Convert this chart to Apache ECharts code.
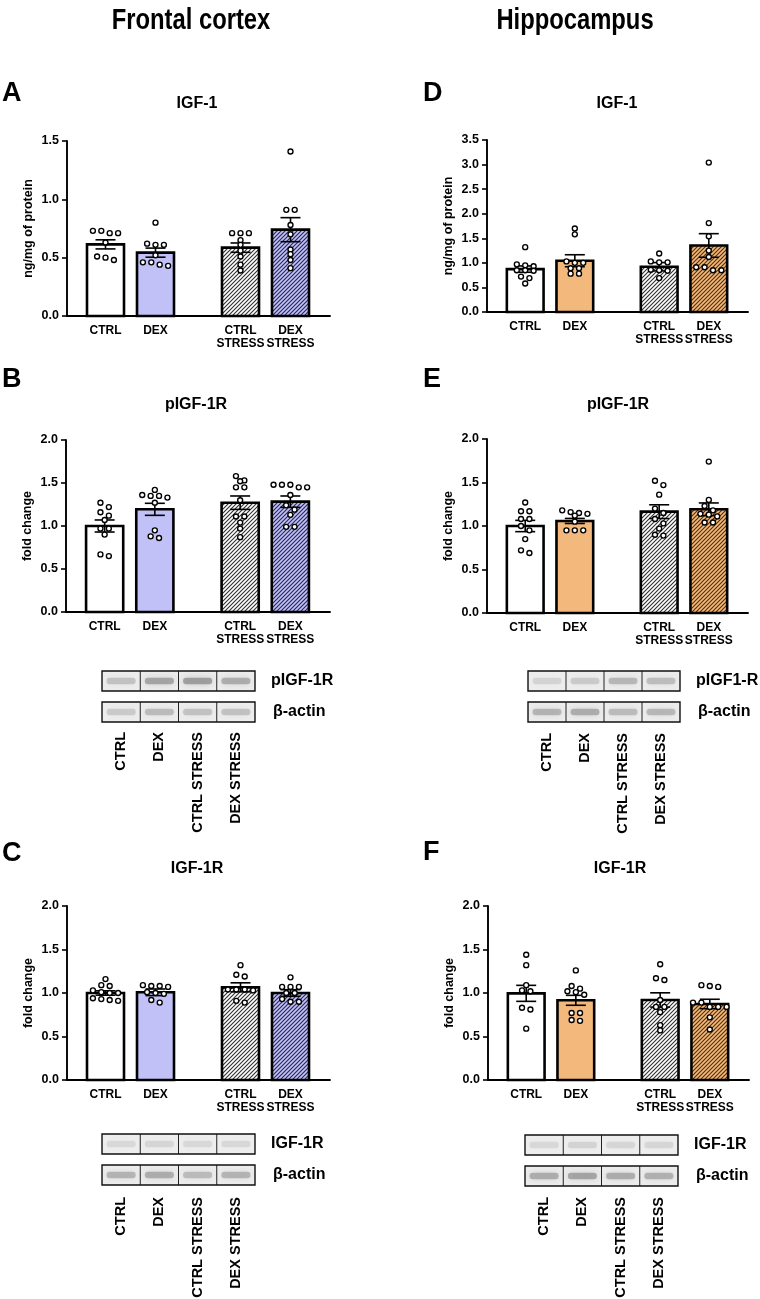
<!DOCTYPE html>
<html><head><meta charset="utf-8">
<script src="https://cdn.jsdelivr.net/npm/echarts@6/dist/echarts.min.js"></script>
<style>html,body{margin:0;padding:0;background:#fff}#c{width:760px;height:1299px}</style>
</head><body><div id="c"></div>
<script>
// ---------- categories ----------
const groups = ['CTRL', 'DEX', 'CTRL\nSTRESS', 'DEX\nSTRESS'];
const laneLabels = ['CTRL', 'DEX', 'CTRL STRESS', 'DEX STRESS'];

// ---------- A: Frontal cortex IGF-1 (ng/mg of protein) ----------
const aMean = [0.614, 0.543, 0.586, 0.740];
const aSem  = [0.039, 0.039, 0.040, 0.103];
const aCtrl    = [0.71, 0.73, 0.71, 0.73, 0.63, 0.48, 0.51, 0.50];
const aDex     = [0.80, 0.61, 0.62, 0.61, 0.52, 0.46, 0.46, 0.44, 0.43];
const aCtrlStr = [0.71, 0.71, 0.71, 0.65, 0.61, 0.56, 0.51, 0.44, 0.39];
const aDexStr  = [1.41, 0.91, 0.91, 0.78, 0.70, 0.57, 0.53, 0.48, 0.41];

// ---------- D: Hippocampus IGF-1 ----------
const dMean = [0.873, 1.043, 0.921, 1.354];
const dSem  = [0.064, 0.122, 0.085, 0.240];
const dCtrl    = [1.32, 0.97, 0.95, 0.93, 0.85, 0.85, 0.84, 0.72, 0.69, 0.58];
const dDex     = [1.70, 1.58, 1.03, 1.00, 1.00, 0.89, 0.89, 0.78, 0.78];
const dCtrlStr = [1.19, 1.03, 1.01, 1.01, 0.86, 0.85, 0.84, 0.69];
const dDexStr  = [3.04, 1.81, 1.54, 1.25, 1.12, 0.91, 0.91, 0.85, 0.85];

// ---------- B: Frontal cortex pIGF-1R (fold change) ----------
const bMean = [1.000, 1.194, 1.271, 1.283];
const bSem  = [0.070, 0.070, 0.078, 0.066];
const bCtrl    = [1.27, 1.22, 1.16, 1.12, 1.07, 0.97, 0.97, 0.90, 0.67, 0.65];
const bDex     = [1.42, 1.36, 1.35, 1.35, 1.33, 1.27, 0.95, 0.88, 0.86];
const bCtrlStr = [1.58, 1.53, 1.52, 1.45, 1.45, 1.30, 1.11, 1.11, 1.04, 0.97, 0.87];
const bDexStr  = [1.48, 1.48, 1.48, 1.45, 1.45, 1.36, 1.24, 1.19, 1.13, 0.99, 0.99];

// ---------- E: Hippocampus pIGF-1R ----------
const eMean = [1.000, 1.058, 1.165, 1.192];
const eSem  = [0.065, 0.029, 0.079, 0.073];
const eCtrl    = [1.27, 1.17, 1.17, 1.08, 1.08, 1.00, 0.95, 0.85, 0.72, 0.69];
const eDex     = [1.18, 1.16, 1.15, 1.14, 1.12, 1.05, 0.95, 0.95, 0.95];
const eCtrlStr = [1.52, 1.47, 1.36, 1.20, 1.15, 1.08, 1.03, 0.97, 0.90, 0.89];
const eDexStr  = [1.74, 1.30, 1.23, 1.18, 1.14, 1.13, 1.11, 1.04, 1.04];

// ---------- C: Frontal cortex IGF-1R ----------
const cMean = [1.000, 1.008, 1.065, 1.000];
const cSem  = [0.025, 0.038, 0.052, 0.038];
const cCtrl    = [1.16, 1.09, 1.08, 1.03, 1.01, 1.00, 1.00, 0.94, 0.93, 0.92, 0.91];
const cDex     = [1.09, 1.08, 1.08, 1.07, 1.01, 1.00, 0.99, 0.92, 0.89];
const cCtrlStr = [1.32, 1.21, 1.19, 1.04, 1.04, 1.04, 1.03, 0.91, 0.89];
const cDexStr  = [1.18, 1.07, 1.07, 1.07, 1.00, 1.00, 0.93, 0.90, 0.90];

// ---------- F: Hippocampus IGF-1R ----------
const fMean = [0.996, 0.916, 0.920, 0.874];
const fSem  = [0.092, 0.057, 0.082, 0.054];
const fCtrl    = [1.44, 1.32, 1.09, 1.03, 1.02, 0.83, 0.81, 0.59];
const fDex     = [1.26, 1.08, 1.05, 1.02, 1.01, 0.98, 0.77, 0.77, 0.69, 0.68];
const fCtrlStr = [1.33, 1.17, 1.15, 0.92, 0.84, 0.84, 0.78, 0.63, 0.57];
const fDexStr  = [1.09, 1.08, 1.07, 0.89, 0.89, 0.84, 0.84, 0.84, 0.72, 0.58];

// ---------- Western blot band intensities (0..1) ----------
const bBlotP   = [0.30, 0.50, 0.55, 0.45];
const bBlotAct = [0.25, 0.35, 0.30, 0.30];
const eBlotP   = [0.18, 0.24, 0.38, 0.34];
const eBlotAct = [0.40, 0.45, 0.35, 0.38];
const cBlotT   = [0.15, 0.17, 0.15, 0.15];
const cBlotAct = [0.40, 0.45, 0.35, 0.40];
const fBlotT   = [0.15, 0.18, 0.17, 0.17];
const fBlotAct = [0.45, 0.50, 0.45, 0.42];

// ================= layout & styling =================
const FONT = "'Liberation Sans', Arial, sans-serif";
const xMax = 5.26;
const groupPos = [0.77, 1.77, 3.47, 4.47];
const barW = 0.74;

function hatch(bg, line) {
  const c = document.createElement('canvas');
  c.width = 4; c.height = 4;
  const g = c.getContext('2d');
  g.fillStyle = bg; g.fillRect(0, 0, 4, 4);
  g.strokeStyle = line; g.lineWidth = 1.15;
  g.beginPath();
  g.moveTo(0, 4); g.lineTo(4, 0);
  g.moveTo(-1, 1); g.lineTo(1, -1);
  g.moveTo(3, 5); g.lineTo(5, 3);
  g.stroke();
  return { image: c, repeat: 'repeat' };
}
const fillsFrontal = ['#ffffff', '#c1c1f7', hatch('#ffffff', '#333333'), hatch('#c1c1f7', '#2a2a5a')];
const fillsHippo   = ['#ffffff', '#f3b97c', hatch('#ffffff', '#333333'), hatch('#f3b97c', '#55300f')];

const panels = [
  { left: 67,  top: 141, width: 263, height: 175, yMax: 1.5, yName: 'ng/mg of protein', mean: aMean, sem: aSem, pts: [aCtrl, aDex, aCtrlStr, aDexStr], fills: fillsFrontal },
  { left: 487, top: 140, width: 261, height: 172, yMax: 3.5, yName: 'ng/mg of protein', mean: dMean, sem: dSem, pts: [dCtrl, dDex, dCtrlStr, dDexStr], fills: fillsHippo },
  { left: 66,  top: 440, width: 264, height: 172, yMax: 2.0, yName: 'fold change', mean: bMean, sem: bSem, pts: [bCtrl, bDex, bCtrlStr, bDexStr], fills: fillsFrontal },
  { left: 487, top: 439, width: 261, height: 174, yMax: 2.0, yName: 'fold change', mean: eMean, sem: eSem, pts: [eCtrl, eDex, eCtrlStr, eDexStr], fills: fillsHippo },
  { left: 67,  top: 906, width: 263, height: 174, yMax: 2.0, yName: 'fold change', mean: cMean, sem: cSem, pts: [cCtrl, cDex, cCtrlStr, cDexStr], fills: fillsFrontal },
  { left: 488, top: 906, width: 261, height: 174, yMax: 2.0, yName: 'fold change', mean: fMean, sem: fSem, pts: [fCtrl, fDex, fCtrlStr, fDexStr], fills: fillsHippo }
];

// deterministic row-based swarm: points at nearly the same height are spread side by side
function swarm(values, pxPerY, stepPx, tolPx) {
  const idx = values.map((v, i) => i).sort((a, b) => values[b] - values[a]);
  const rows = [];
  idx.forEach(i => {
    const r = rows[rows.length - 1];
    if (r && (values[r[0]] - values[i]) * pxPerY <= tolPx) r.push(i); else rows.push([i]);
  });
  const off = new Array(values.length).fill(0);
  rows.forEach(r => r.forEach((i, k) => { off[i] = (k - (r.length - 1) / 2) * stepPx; }));
  return off;
}

const grids = [], xAxes = [], yAxes = [], series = [];
panels.forEach((p, pi) => {
  grids.push({ left: p.left, top: p.top, width: p.width, height: p.height });
  xAxes.push({
    type: 'value', gridIndex: pi, min: 0, max: xMax,
    axisLine: { show: true, onZero: true, lineStyle: { color: '#000', width: 1.9 } },
    axisTick: { show: false }, axisLabel: { show: false }, splitLine: { show: false }
  });
  yAxes.push({
    type: 'value', gridIndex: pi, min: 0, max: p.yMax, interval: 0.5,
    axisLine: { show: true, lineStyle: { color: '#000', width: 1.9 } },
    axisTick: { show: true, length: 5, lineStyle: { color: '#000', width: 1.6 } },
    axisLabel: { formatter: v => v.toFixed(1), color: '#000', fontWeight: 'bold', fontSize: 12.5, fontFamily: FONT, margin: 8 },
    splitLine: { show: false },
    name: p.yName, nameLocation: 'middle', nameRotate: 90, nameGap: 32,
    nameTextStyle: { color: '#000', fontWeight: 'bold', fontSize: 12.5, fontFamily: FONT }
  });
  const pxPerX = p.width / xMax, pxPerY = p.height / p.yMax;
  const fills = p.fills;
  // bars
  series.push({
    type: 'custom', xAxisIndex: pi, yAxisIndex: pi, silent: true, z: 2,
    data: groupPos.map((x, i) => [x, p.mean[i], i]),
    renderItem: (params, api) => {
      const x = api.value(0), y = api.value(1), k = api.value(2);
      const p0 = api.coord([x, 0]), p1 = api.coord([x, y]);
      const w = api.size([barW, 0])[0];
      return { type: 'rect', shape: { x: p0[0] - w / 2, y: p1[1], width: w, height: p0[1] - p1[1] },
        style: { fill: fills[k], stroke: '#000', lineWidth: 2.6 } };
    }
  });
  // error bars
  series.push({
    type: 'custom', xAxisIndex: pi, yAxisIndex: pi, silent: true, z: 3,
    data: groupPos.map((x, i) => [x, p.mean[i], p.sem[i]]),
    renderItem: (params, api) => {
      const x = api.value(0), m = api.value(1), s = api.value(2);
      const t = api.coord([x, m + s]), b = api.coord([x, m - s]);
      const st = { stroke: '#000', lineWidth: 1.6 };
      return { type: 'group', children: [
        { type: 'line', shape: { x1: t[0], y1: t[1], x2: b[0], y2: b[1] }, style: st },
        { type: 'line', shape: { x1: t[0] - 10, y1: t[1], x2: t[0] + 10, y2: t[1] }, style: st },
        { type: 'line', shape: { x1: b[0] - 10, y1: b[1], x2: b[0] + 10, y2: b[1] }, style: st }
      ] };
    }
  });
  // individual points
  const pts = [];
  p.pts.forEach((vals, gi) => {
    const off = swarm(vals, pxPerY, 8.4, 4.5);
    vals.forEach((v, j) => pts.push([groupPos[gi] + off[j] / pxPerX, v]));
  });
  series.push({
    type: 'scatter', xAxisIndex: pi, yAxisIndex: pi, silent: true, z: 4,
    symbol: 'circle', symbolSize: 5,
    itemStyle: { color: '#ffffff', borderColor: '#000', borderWidth: 1.35, opacity: 1 },
    data: pts
  });
  // category labels under the x axis
  series.push({
    type: 'custom', xAxisIndex: pi, yAxisIndex: pi, silent: true, z: 5, clip: false,
    data: groupPos.map((x, i) => [x, i]),
    renderItem: (params, api) => {
      const c = api.coord([api.value(0), 0]);
      return { type: 'text', x: c[0], y: c[1] + 8,
        style: { text: groups[api.value(1)], align: 'center', verticalAlign: 'top',
          font: 'bold 12px ' + FONT, fill: '#000', lineHeight: 13 } };
    }
  });
});

// ---------- graphic: headings, letters, titles, blots ----------
const G = [];
function txt(x, y, s, size, opt) {
  opt = opt || {};
  const el = { type: 'text', x: x, y: y, silent: true,
    style: { text: s, font: 'bold ' + size + 'px ' + FONT, fill: '#000',
      align: opt.align || 'center', verticalAlign: opt.va || 'middle' } };
  if (opt.scaleX) el.scaleX = opt.scaleX;
  if (opt.rotation) el.rotation = opt.rotation;
  G.push(el);
}
txt(191, 21, 'Frontal cortex', 29, { scaleX: 0.82 });
txt(575, 21, 'Hippocampus', 29, { scaleX: 0.82 });

txt(2, 94, 'A', 27, { align: 'left' });
txt(423, 94, 'D', 27, { align: 'left' });
txt(2, 380, 'B', 27, { align: 'left' });
txt(423, 380, 'E', 27, { align: 'left' });
txt(2, 854, 'C', 27, { align: 'left' });
txt(423, 853, 'F', 27, { align: 'left' });

txt(197, 104, 'IGF-1', 16);
txt(617, 104, 'IGF-1', 16);
txt(196, 405, 'pIGF-1R', 16);
txt(618, 405, 'pIGF-1R', 16);
txt(197, 869, 'IGF-1R', 16);
txt(620, 869, 'IGF-1R', 16);

function strip(x0, y0, w, h, intens) {
  G.push({ type: 'rect', silent: true, shape: { x: x0, y: y0, width: w, height: h },
    style: { fill: '#ededed', stroke: 'none' } });
  const lw = w / 4;
  intens.forEach((a, i) => {
    const cx = x0 + lw * (i + 0.5);
    G.push({ type: 'rect', silent: true,
      shape: { x: cx - lw * 0.38, y: y0 + h * 0.34, width: lw * 0.76, height: h * 0.32, r: 3 },
      style: { fill: 'rgba(110,110,110,' + a + ')', shadowBlur: 7, shadowColor: 'rgba(110,110,110,' + a + ')' } });
  });
  for (let i = 1; i < 4; i++) {
    G.push({ type: 'line', silent: true, shape: { x1: x0 + lw * i, y1: y0, x2: x0 + lw * i, y2: y0 + h },
      style: { stroke: '#222', lineWidth: 1 } });
  }
  G.push({ type: 'rect', silent: true, shape: { x: x0, y: y0, width: w, height: h },
    style: { fill: 'none', stroke: '#111', lineWidth: 1.4 } });
}
function blot(x0, w, yTop, labels, intA, intB, laneTop) {
  strip(x0, yTop, w, 20, intA);
  strip(x0, yTop + 31, w, 20, intB);
  txt(x0 + w + 16, yTop + 10, labels[0], 16, { align: 'left' });
  txt(x0 + w + 18, yTop + 41, labels[1], 16, { align: 'left' });
  const lw = w / 4;
  laneLabels.forEach((s, i) => {
    txt(x0 + lw * (i + 0.5), laneTop, s, 14.5, { align: 'right', rotation: Math.PI / 2 });
  });
}
blot(102, 153, 671, ['pIGF-1R', 'β-actin'], bBlotP, bBlotAct, 732);
blot(528, 152, 671, ['pIGF1-R', 'β-actin'], eBlotP, eBlotAct, 733);
blot(102, 153, 1134, ['IGF-1R', 'β-actin'], cBlotT, cBlotAct, 1197);
blot(525, 153, 1135, ['IGF-1R', 'β-actin'], fBlotT, fBlotAct, 1197);

const chart = echarts.init(document.getElementById('c'), null, { renderer: 'canvas' });
chart.setOption({
  backgroundColor: '#ffffff',
  animation: false,
  grid: grids, xAxis: xAxes, yAxis: yAxes, series: series,
  graphic: { elements: G }
});
</script></body></html>
